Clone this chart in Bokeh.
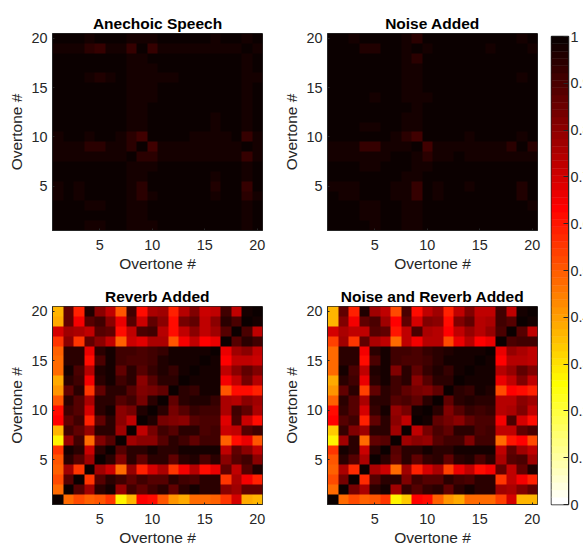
import numpy as np
from bokeh.plotting import figure
from bokeh.layouts import row, column
from bokeh.models import LinearAxis, FixedTicker, Range1d, Title, LinearColorMapper
from bokeh.embed import file_html
from bokeh.resources import INLINE

titles = ["Anechoic Speech", "Noise Added", "Reverb Added", "Noise and Reverb Added"]
x_label = "Overtone #"
y_label = "Overtone #"
axis_ticks = [5, 10, 15, 20]
cbar_ticks = [0, 0.1, 0.2, 0.3, 0.4, 0.5, 0.6, 0.7, 0.8, 0.9, 1]

# Upper triangles of the symmetric matrices, in percent: row i holds columns i..20
anechoic = [
    [100,99,99,98,98,99,99,98,98,98,99,99,99,99,99,99,99,99,98,99],
    [100,99,99,99,99,99,97,98,99,99,99,99,99,99,99,99,99,98,99],
    [100,98,98,99,99,97,98,99,99,99,99,99,99,99,99,99,98,99],
    [100,99,99,99,97,94,98,99,99,99,99,99,98,99,99,94,98],
    [100,99,99,97,94,99,99,99,99,99,99,96,99,99,93,99],
    [100,99,98,97,99,99,99,99,99,99,98,99,99,97,99],
    [100,98,98,98,99,99,99,99,99,99,99,99,98,99],
    [100,95,94,97,97,97,98,98,97,97,97,93,98],
    [100,92,97,97,97,98,98,98,97,97,99,98],
    [100,99,99,99,98,98,97,98,99,93,98],
    [100,99,99,99,99,98,99,99,97,99],
    [100,99,99,99,98,99,99,97,99],
    [100,99,99,99,99,99,97,99],
    [100,99,99,99,99,98,99],
    [100,99,99,99,98,99],
    [100,99,99,98,98],
    [100,99,98,99],
    [100,98,99],
    [100,98],
    [100],
]
noise = [
    [100,99,99,99,98,99,99,98,98,99,99,99,99,99,99,99,99,99,99,99],
    [100,99,98,98,99,99,98,98,99,99,99,99,99,99,99,99,99,99,99],
    [100,98,98,99,99,97,98,99,99,99,99,99,99,99,99,99,99,98],
    [100,99,99,98,97,93,99,98,99,99,99,99,99,99,99,96,99],
    [100,99,98,97,93,99,98,99,99,98,99,99,99,99,96,99],
    [100,99,98,98,99,99,99,99,99,99,99,99,99,99,99],
    [100,99,98,98,99,99,99,99,99,99,99,99,99,99],
    [100,97,94,98,97,99,98,98,98,98,97,98,97],
    [100,92,98,98,98,98,98,98,98,95,100,94],
    [100,99,99,99,98,99,99,99,99,98,99],
    [100,99,99,99,99,99,99,99,99,99],
    [100,99,99,99,99,99,99,99,99],
    [100,99,99,99,99,99,99,99],
    [100,99,99,99,99,99,99],
    [100,99,99,99,99,99],
    [100,99,99,98,99],
    [100,99,99,99],
    [100,99,99],
    [100,98],
    [100],
]
reverb = [
    [100,48,53,49,50,55,27,37,64,61,50,42,38,47,47,49,55,70,38,37],
    [100,89,78,95,97,79,92,87,92,94,87,94,97,94,95,80,78,86,87],
    [100,56,89,95,92,86,92,88,88,94,92,90,95,95,56,75,65,58],
    [100,78,71,48,79,58,70,76,56,65,74,62,66,87,72,88,96],
    [100,95,82,95,86,94,94,87,95,96,90,95,81,89,91,80],
    [100,88,95,95,98,95,94,98,97,98,98,72,86,80,72],
    [100,78,80,80,88,94,92,86,92,92,49,61,66,50],
    [100,72,83,92,88,95,95,90,92,71,72,88,91],
    [100,96,83,82,80,88,90,90,68,90,71,61],
    [100,94,83,88,93,92,92,76,92,86,76],
    [100,87,95,96,96,93,76,74,80,78],
    [100,95,93,98,97,50,62,62,59],
    [100,97,97,98,65,72,83,74],
    [100,98,98,73,80,86,82],
    [100,98,64,73,73,71],
    [100,66,78,80,72],
    [100,88,94,92],
    [100,90,72],
    [100,97],
    [100],
]
noise_reverb = [
    [100,48,53,49,51,55,27,33,64,61,49,42,38,48,48,48,54,70,37,36],
    [100,83,75,94,97,78,93,88,93,94,86,95,97,94,95,78,76,82,87],
    [100,57,89,94,94,82,92,88,88,94,92,90,95,95,56,72,65,59],
    [100,76,71,48,78,58,69,76,54,67,72,62,65,87,72,87,96],
    [100,95,86,94,87,93,94,86,95,96,90,95,76,88,90,78],
    [100,88,94,95,98,95,94,98,97,98,98,72,87,78,72],
    [100,77,80,79,88,92,91,82,91,91,47,60,64,52],
    [100,73,83,90,87,94,95,90,92,72,72,87,90],
    [100,97,86,83,80,87,90,90,65,90,70,61],
    [100,94,82,88,93,92,93,74,76,82,73],
    [100,87,94,96,95,94,74,74,80,78],
    [100,95,93,97,96,52,64,62,59],
    [100,97,98,98,67,72,82,72],
    [100,98,98,74,79,86,82],
    [100,98,64,74,74,72],
    [100,66,79,76,72],
    [100,90,92,91],
    [100,89,72],
    [100,98],
    [100],
]
matrices = [anechoic, noise, reverb, noise_reverb]


# MATLAB "hot", flipped, 64 levels
def hot(m=64):
    n = int(3 / 8 * m)
    out = []
    for k in range(1, m + 1):
        r = min(k / n, 1.0)
        g = 0.0 if k <= n else min((k - n) / n, 1.0)
        b = 0.0 if k <= 2 * n else (k - 2 * n) / (m - 2 * n)
        out.append("#%02x%02x%02x" % (round(r * 255), round(g * 255), round(b * 255)))
    return out[::-1]


palette = hot()
mapper = LinearColorMapper(palette=palette, low=0, high=1)
DARK = "#262626"
FONT = "Liberation Sans"


def panel(tri, title, width, height, left, top, right, bottom, title_standoff):
    arr = np.zeros((20, 20))
    for i, vals in enumerate(tri):
        for off, v in enumerate(vals):
            arr[i, i + off] = arr[i + off, i] = v / 100
    big = np.repeat(np.repeat(arr, 10, axis=0), 10, axis=1)
    p = figure(width=width, height=height, output_backend="svg", toolbar_location=None,
               x_range=Range1d(0.5, 20.5), y_range=Range1d(0.5, 20.5),
               min_border_left=left, min_border_right=right, min_border_top=top, min_border_bottom=bottom)
    p.image(image=[big], x=0.5, y=0.5, dw=20, dh=20, color_mapper=mapper)
    p.grid.visible = False
    p.title = Title(text=title, align="center", text_font=FONT, text_font_size="15.5px",
                    text_font_style="bold", text_color="#000000", standoff=title_standoff, offset=0)
    p.outline_line_color = DARK
    p.outline_line_width = 1
    p.outline_line_alpha = 1
    for ax, lab in ((p.xaxis[0], x_label), (p.yaxis[0], y_label)):
        ax.ticker = FixedTicker(ticks=axis_ticks)
        ax.axis_label = lab
        ax.axis_label_text_font = FONT
        ax.axis_label_text_font_size = "15.5px"
        ax.axis_label_text_font_style = "normal"
        ax.axis_label_text_color = DARK
        ax.major_label_text_font = FONT
        ax.major_label_text_font_size = "14.4px"
        ax.major_label_text_color = DARK
        ax.axis_line_color = DARK
        ax.major_tick_line_color = DARK
        ax.major_tick_in = 2
        ax.major_tick_out = 0
        ax.minor_tick_line_color = None
    p.xaxis[0].major_label_standoff = 9
    p.yaxis[0].major_label_standoff = 5
    p.xaxis[0].axis_label_standoff = 2
    p.yaxis[0].axis_label_standoff = 3
    p.yaxis[0].major_label_orientation = "horizontal"
    return p


p1 = panel(matrices[0], titles[0], 270, 280, 52, 33, 8, 50, 4)
p2 = panel(matrices[1], titles[1], 275, 280, 57, 33, 8, 50, 4)
p3 = panel(matrices[2], titles[2], 270, 270, 52, 26, 8, 46, 3)
p4 = panel(matrices[3], titles[3], 275, 270, 57, 26, 8, 46, 3)

# colour bar
cb = figure(width=60, height=544, output_backend="svg", toolbar_location=None,
            x_range=Range1d(0, 1), y_range=Range1d(0, 1),
            min_border_left=6, min_border_right=37, min_border_top=36, min_border_bottom=40)
n = len(palette)
cb.quad(left=0, right=1, bottom=[i / n for i in range(n)], top=[(i + 1) / n for i in range(n)],
        fill_color=palette, line_color=palette, line_width=0.5)
cb.grid.visible = False
cb.xaxis.visible = False
cb.yaxis.visible = False
cb.outline_line_color = DARK
cb.outline_line_width = 1.5
ax = LinearAxis(ticker=FixedTicker(ticks=cbar_ticks))
ax.major_label_overrides = {0: "0", 1: "1"}
ax.major_label_text_font = FONT
ax.major_label_text_font_size = "14.4px"
ax.major_label_text_color = DARK
ax.axis_line_color = DARK
ax.major_tick_line_color = DARK
ax.major_tick_in = 5
ax.major_tick_out = 0
ax.minor_tick_line_color = None
ax.major_label_standoff = 2
cb.add_layout(ax, "right")

layout = row(column(row(p1, p2, spacing=0), row(p3, p4, spacing=0), spacing=0), cb, spacing=0)
open("out.html", "w").write(file_html(layout, INLINE))
